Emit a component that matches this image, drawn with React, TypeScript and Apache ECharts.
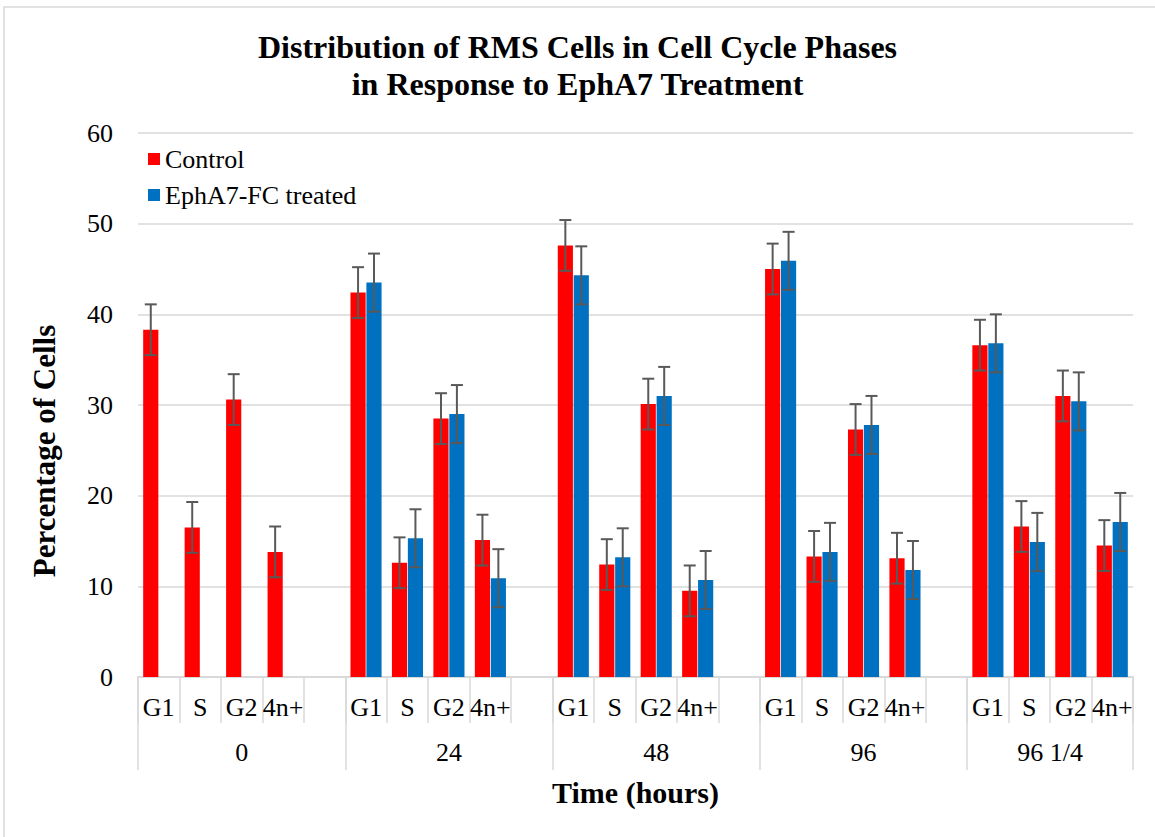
import React, { useEffect, useRef } from "react";
import * as echarts from "echarts";

const groups = ["0", "24", "48", "96", "96 1/4"];
const phases = ["G1", "S", "G2", "4n+"];

// values per group, in phase order G1, S, G2, 4n+
const controlValues: (number | null)[][] = [
  [38.3, 16.5, 30.6, 13.8],
  [42.4, 12.6, 28.5, 15.1],
  [47.6, 12.4, 30.1, 9.5],
  [45.0, 13.3, 27.3, 13.1],
  [36.6, 16.6, 31.0, 14.5],
];
const treatedValues: (number | null)[][] = [
  [null, null, null, null],
  [43.5, 15.3, 29.0, 10.9],
  [44.3, 13.2, 31.0, 10.7],
  [45.9, 13.8, 27.8, 11.8],
  [36.8, 14.9, 30.4, 17.1],
];
const controlErrors: number[][] = [
  [2.8, 2.8, 2.8, 2.8],
  [2.8, 2.8, 2.8, 2.8],
  [2.8, 2.8, 2.8, 2.8],
  [2.8, 2.8, 2.8, 2.8],
  [2.8, 2.8, 2.8, 2.8],
];
const treatedErrors: number[][] = [
  [0, 0, 0, 0],
  [3.2, 3.2, 3.2, 3.2],
  [3.2, 3.2, 3.2, 3.2],
  [3.2, 3.2, 3.2, 3.2],
  [3.2, 3.2, 3.2, 3.2],
];
const yTicks = { min: 0, max: 60, interval: 10 };

const FONT = "Liberation Serif";
const GRID_COLOR = "#D9D9D9";
const RED = "#FF0000";
const BLUE = "#0070C0";
const CAT_GAP = 0.25;
const BAR_GAP = 0.05;

// build slots: each group has its phases followed by an empty slot (except last)
const categories: string[] = [];
const controlSlots: (number | null)[] = [];
const treatedSlots: (number | null)[] = [];
const controlErrSlots: number[] = [];
const treatedErrSlots: number[] = [];
const groupBounds: number[] = [0];
const groupCenters: number[] = [];
groups.forEach((g, gi) => {
  const start = categories.length;
  phases.forEach((p, pi) => {
    categories.push(p);
    controlSlots.push(controlValues[gi][pi]);
    treatedSlots.push(treatedValues[gi][pi]);
    controlErrSlots.push(controlErrors[gi][pi]);
    treatedErrSlots.push(treatedErrors[gi][pi]);
  });
  if (gi < groups.length - 1) {
    categories.push("");
    controlSlots.push(null);
    treatedSlots.push(null);
    controlErrSlots.push(0);
    treatedErrSlots.push(0);
  }
  const end = categories.length;
  groupBounds.push(end);
  groupCenters.push((start + end) / 2);
});

export default function App() {
  const ref = useRef<HTMLDivElement>(null);
  useEffect(() => {
    if (!ref.current) return;
    const chart = echarts.init(ref.current, undefined, { renderer: "svg" });

    const errData: number[][] = [];
    controlSlots.forEach((v, i) => {
      if (v != null) errData.push([i, v - controlErrSlots[i], v + controlErrSlots[i], 0]);
    });
    treatedSlots.forEach((v, i) => {
      if (v != null) errData.push([i, v - treatedErrSlots[i], v + treatedErrSlots[i], 1]);
    });

    const centerLabel: Record<string, string> = {};
    groupCenters.forEach((c, i) => (centerLabel[String(c)] = groups[i]));

    chart.setOption({
      animation: false,
      backgroundColor: "#fff",
      textStyle: { fontFamily: FONT },
      title: {
        text: "Distribution of RMS Cells in Cell Cycle Phases\nin Response to EphA7 Treatment",
        left: "center",
        top: 23,
        textStyle: {
          fontFamily: FONT,
          fontSize: 32,
          fontWeight: "bold",
          lineHeight: 37,
          color: "#000",
        },
      },
      legend: {
        data: ["Control", "EphA7-FC treated"],
        orient: "vertical",
        left: 143,
        top: 141,
        icon: "rect",
        itemWidth: 12,
        itemHeight: 12,
        itemGap: 10,
        textStyle: { fontFamily: FONT, fontSize: 26, color: "#000", lineHeight: 26 },
      },
      graphic: [
        {
          type: "rect",
          z: -10,
          shape: { x: 4, y: 7, width: 1200, height: 900 },
          style: { fill: "none", stroke: GRID_COLOR, lineWidth: 1.5 },
          silent: true,
        },
      ],
      grid: { left: 138, right: 22, top: 133, bottom: 160 },
      xAxis: [
        {
          type: "category",
          data: categories,
          axisLine: { show: true, lineStyle: { color: GRID_COLOR, width: 2 } },
          axisTick: {
            show: true,
            interval: 0,
            alignWithLabel: false,
            length: 46,
            lineStyle: { color: GRID_COLOR, width: 1.5 },
          },
          axisLabel: {
            interval: 0,
            margin: 17,
            fontSize: 26,
            fontFamily: FONT,
            color: "#000",
          },
          splitLine: { show: false },
        },
        {
          type: "value",
          min: 0,
          max: categories.length,
          position: "bottom",
          axisLine: { show: false },
          splitLine: { show: false },
          axisTick: {
            show: true,
            customValues: groupBounds,
            length: 93,
            lineStyle: { color: GRID_COLOR, width: 1.5 },
          },
          axisLabel: {
            customValues: groupCenters,
            formatter: (v: number) => centerLabel[String(v)] ?? "",
            margin: 62,
            fontSize: 26,
            fontFamily: FONT,
            color: "#000",
          },
          name: "Time (hours)",
          nameLocation: "middle",
          nameGap: 100,
          nameTextStyle: { fontFamily: FONT, fontSize: 30, fontWeight: "bold", color: "#000" },
        },
      ],
      yAxis: {
        type: "value",
        min: yTicks.min,
        max: yTicks.max,
        interval: yTicks.interval,
        axisLine: { show: false },
        axisTick: { show: false },
        axisLabel: { fontSize: 26, fontFamily: FONT, color: "#000", margin: 25 },
        splitLine: { lineStyle: { color: GRID_COLOR, width: 1.5 } },
        name: "Percentage of Cells",
        nameLocation: "middle",
        nameRotate: 90,
        nameGap: 78,
        nameTextStyle: {
          fontFamily: FONT,
          fontSize: 31,
          fontWeight: "bold",
          color: "#000",
          padding: [0, 0, 0, -92],
        },
      },
      series: [
        {
          name: "Control",
          type: "bar",
          xAxisIndex: 0,
          data: controlSlots,
          barCategoryGap: CAT_GAP * 100 + "%",
          barGap: BAR_GAP * 100 + "%",
          itemStyle: { color: RED },
        },
        {
          name: "EphA7-FC treated",
          type: "bar",
          xAxisIndex: 0,
          data: treatedSlots,
          barCategoryGap: CAT_GAP * 100 + "%",
          barGap: BAR_GAP * 100 + "%",
          itemStyle: { color: BLUE },
        },
        {
          type: "custom",
          xAxisIndex: 0,
          yAxisIndex: 0,
          z: 10,
          silent: true,
          encode: { x: 0, y: [1, 2] },
          data: errData,
          renderItem: (params: any, api: any) => {
            const idx = api.value(0);
            const lo = api.value(1);
            const hi = api.value(2);
            const side = api.value(3);
            const band = api.size([1, 0])[0];
            const w = (band * (1 - CAT_GAP)) / (2 + BAR_GAP);
            const g = w * BAR_GAP;
            const cx = api.coord([idx, 0])[0] + (side === 0 ? -1 : 1) * (w + g) / 2;
            const yTop = api.coord([idx, hi])[1];
            const yBot = api.coord([idx, lo])[1];
            const cap = 6;
            const style = { stroke: "#595959", lineWidth: 2 };
            return {
              type: "group",
              children: [
                { type: "line", shape: { x1: cx, y1: yTop, x2: cx, y2: yBot }, style },
                { type: "line", shape: { x1: cx - cap, y1: yTop, x2: cx + cap, y2: yTop }, style },
                { type: "line", shape: { x1: cx - cap, y1: yBot, x2: cx + cap, y2: yBot }, style },
              ],
            };
          },
        },
      ],
    });
    return () => chart.dispose();
  }, []);
  return (
    <div
      ref={ref}
      style={{ position: "absolute", left: 0, top: 0, width: 1155, height: 837 }}
    />
  );
}
